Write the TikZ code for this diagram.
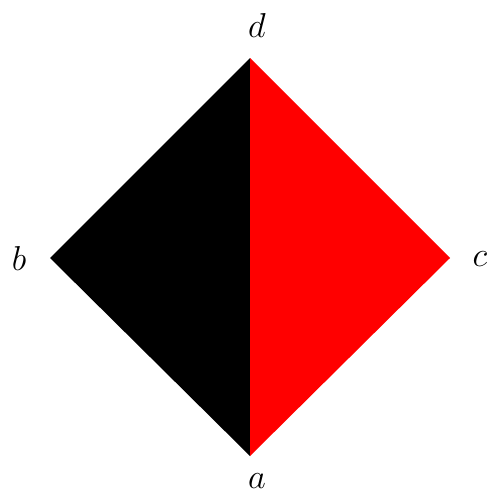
\documentclass[tikz,border=0pt]{standalone}
\usepackage{amsmath,amssymb}
\usepackage{xcolor}
\usepackage{tikz}

\begin{document}
\begin{tikzpicture}[
    x=0.5pt, y=-0.5pt,
    font=\LARGE,
    vlabel/.style={inner sep=0pt}
]
\useasboundingbox (0,0) rectangle (488,498);

% --- corners of the square ---
\coordinate (d) at (250,58);
\coordinate (b) at (50,258);
\coordinate (c) at (450,258);
\coordinate (a) at (250,456);

% --- the two halves ---
\fill[black] (d) -- (b) -- (a) -- cycle;
\fill[red] (d) -- (c) -- (a) -- cycle;

% --- labels ---
\node[vlabel] (dlab) at (257,26)  {$d$};
\node[vlabel] (blab) at (19,258)  {$b$};
\node[vlabel] (clab) at (480,259) {$c$};
\node[vlabel] (alab) at (257,481) {$a$};

\end{tikzpicture}
\end{document}
